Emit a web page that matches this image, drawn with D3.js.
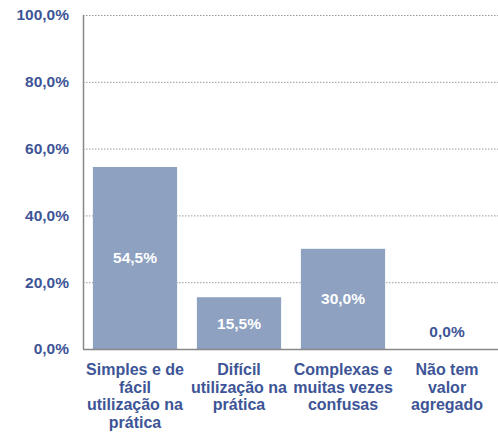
<!DOCTYPE html>
<html><head><meta charset="utf-8">
<script src="https://cdn.jsdelivr.net/npm/d3@7"></script>
<style>body{margin:0;background:#fff}svg{display:block}text{font-family:"Liberation Sans",Arial,sans-serif;font-weight:bold}</style>
</head><body>
<script>
const categories = [["Simples e de","fácil","utilização na","prática"],["Difícil","utilização na","prática"],["Complexas e","muitas vezes","confusas"],["Não tem","valor","agregado"]];
const values = [54.5, 15.5, 30.0, 0.0];
const ticks = [0,20,40,60,80,100];
const fmt = v => v.toFixed(1).replace(".", ",") + "%";

const W=498,H=432, L=83, R=499, T=15, B=349;
const svg=d3.select("body").append("svg").attr("width",W).attr("height",H);
const x=d3.scaleBand().domain(d3.range(values.length)).range([L,R]).paddingInner(0.19).paddingOuter(0.095);
const y=d3.scaleLinear().domain([0,100]).range([B,T]);
const blue="#3D5596";

// gridlines
svg.append("g").selectAll("line").data(ticks.filter(t=>t>0)).join("line")
 .attr("x1",L).attr("x2",R).attr("y1",d=>y(d)+0.5).attr("y2",d=>y(d)+0.5)
 .attr("stroke","#999").attr("stroke-dasharray","1.5,1.5");

// bars
svg.append("g").selectAll("rect").data(values).join("rect")
 .attr("x",(d,i)=>x(i)).attr("width",x.bandwidth())
 .attr("y",d=>y(d)).attr("height",d=>B-y(d)).attr("fill","#8EA1C1");

// value labels
svg.append("g").selectAll("text").data(values).join("text")
 .attr("x",(d,i)=>x(i)+x.bandwidth()/2)
 .attr("y",d=>d>5?(y(d)+B)/2:B-17)
 .attr("dy","0.35em").attr("text-anchor","middle").attr("font-size",15.5)
 .attr("fill",d=>d>5?"#fff":blue).text(d=>fmt(d));

// axes lines
svg.append("line").attr("x1",L+0.5).attr("x2",L+0.5).attr("y1",T).attr("y2",B).attr("stroke","#888").attr("stroke-width",1.5);
svg.append("line").attr("x1",L).attr("x2",R).attr("y1",B+0.5).attr("y2",B+0.5).attr("stroke","#888").attr("stroke-width",1.5);

// y tick labels
svg.append("g").selectAll("text").data(ticks).join("text")
 .attr("x",69).attr("y",d=>y(d)).attr("dy","0.35em").attr("text-anchor","end")
 .attr("font-size",15.5).attr("fill",blue).text(d=>fmt(d));

// x labels
const xl=svg.append("g").selectAll("text").data(categories).join("text")
 .attr("text-anchor","middle").attr("font-size",16).attr("fill",blue)
 .attr("transform",(d,i)=>`translate(${x(i)+x.bandwidth()/2},375)`);
xl.selectAll("tspan").data(d=>d).join("tspan").attr("x",0).attr("y",(d,j)=>j*17.7).text(d=>d);
</script>
</body></html>
